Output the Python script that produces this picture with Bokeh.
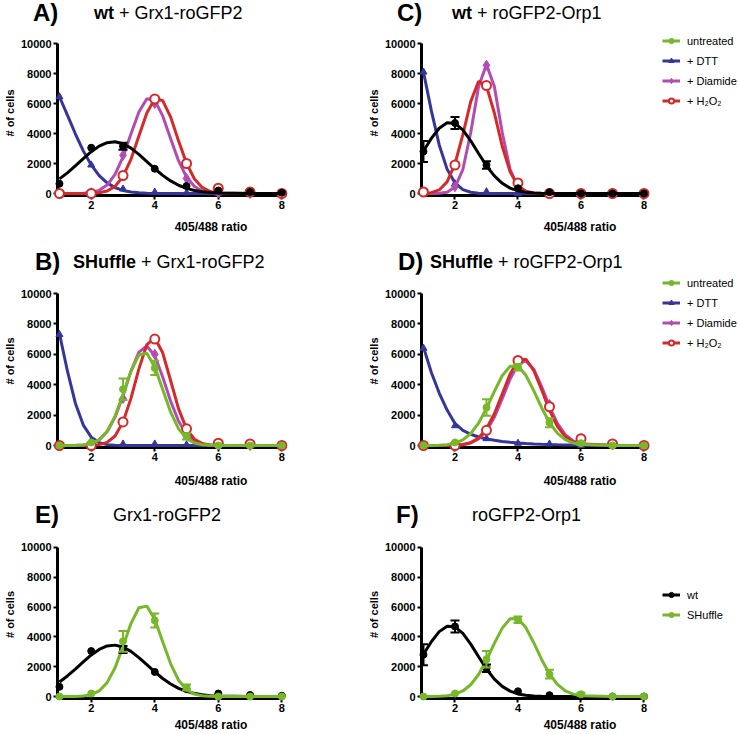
from bokeh.plotting import figure
from bokeh.layouts import column, row
from bokeh.models import (Range1d, FixedTicker, Legend, LegendItem, Div,
                          Whisker, TeeHead, ColumnDataSource)
from bokeh.embed import file_html
from bokeh.resources import INLINE

# ------------------------------------------------------------------ data
X_PTS = [1, 2, 3, 4, 5, 6, 7, 8]
X_FIT = [1.0, 1.25, 1.5, 1.75, 2.0, 2.25, 2.5, 2.75, 3.0, 3.25, 3.5, 3.75,
         4.0, 4.25, 4.5, 4.75, 5.0, 5.25, 5.5, 5.75, 6.0, 7.0, 8.0]
X_TICKS = [2, 4, 6, 8]
Y_TICKS = [0, 2000, 4000, 6000, 8000, 10000]

# A) wt + Grx1-roGFP2
wt_grx_untreated_pts = [650, 3050, 3150, 1650, 500, 200, 100, 50]
wt_grx_untreated_err = [0, 0, 230, 0, 0, 0, 0, 0]
wt_grx_untreated_fit = [976, 1378, 1840, 2326, 2786, 3158, 3390, 3446, 3317, 3023, 2610, 2132,
                        1650, 1209, 838, 550, 343, 202, 113, 59, 30, 1, 0]
wt_grx_dtt_pts = [6450, 1900, 300, 90, 40, 0, 0, 0]
wt_grx_dtt_fit = [6450, 5230, 3981, 2842, 1905, 1197, 707, 392, 203, 99, 45, 20,
                  8, 3, 1, 0, 0, 0, 0, 0, 0, 0, 0]
wt_grx_diamide_pts = [0, 50, 2550, 6000, 1000, 50, 0, 0]
wt_grx_diamide_fit = [0, 1, 4, 18, 67, 211, 563, 1276, 2443, 3960, 5436, 6315,
                      6211, 5172, 3644, 2173, 1097, 469, 170, 52, 14, 0, 0]
wt_grx_h2o2_pts = [0, 0, 1200, 6300, 2000, 350, 100, 0]
wt_grx_h2o2_fit = [0, 0, 0, 2, 12, 48, 165, 474, 1137, 2280, 3827, 5371,
                   6309, 6198, 5092, 3500, 2012, 967, 389, 131, 37, 0, 0]

# C) wt + roGFP2-Orp1
wt_orp_untreated_pts = [2800, 4700, 1900, 350, 90, 0, 0, 0]
wt_orp_untreated_err = [700, 400, 250, 0, 0, 0, 0, 0]
wt_orp_untreated_fit = [2835, 3673, 4352, 4716, 4675, 4237, 3512, 2664, 1846, 1171, 680, 360,
                        175, 78, 31, 11, 4, 0, 0, 0, 0, 0, 0]
wt_orp_dtt_pts = [8100, 650, 120, 0, 0, 0, 0, 0]
wt_orp_dtt_fit = [8100, 5525, 3236, 1625, 700, 259, 82, 22, 5, 1, 0, 0,
                  0, 0, 0, 0, 0, 0, 0, 0, 0, 0, 0]
wt_orp_diamide_pts = [100, 450, 8550, 500, 0, 0, 0, 0]
wt_orp_diamide_fit = [0, 1, 10, 80, 430, 1596, 4068, 7131, 8600, 7131, 4068, 1596,
                      430, 80, 10, 1, 0, 0, 0, 0, 0, 0, 0]
wt_orp_h2o2_pts = [100, 1900, 7200, 700, 0, 0, 0, 0]
wt_orp_h2o2_fit = [11, 57, 238, 774, 1970, 3925, 6124, 7486, 7163, 5367, 3150, 1448,
                   520, 146, 32, 6, 1, 0, 0, 0, 0, 0, 0]

# B) SHuffle + Grx1-roGFP2
sh_grx_untreated_pts = [0, 200, 3700, 5100, 600, 0, 0, 0]
sh_grx_untreated_err = [0, 0, 700, 470, 200, 0, 0, 0]
sh_grx_untreated_fit = [0, 2, 8, 35, 126, 374, 930, 1934, 3362, 4893, 5955, 6063,
                        5163, 3677, 2191, 1092, 456, 159, 46, 11, 2, 0, 0]
sh_grx_dtt_pts = [7300, 300, 100, 100, 50, 0, 0, 0]
sh_grx_dtt_fit = [7350, 4904, 2782, 1342, 551, 192, 57, 14, 3, 1, 0, 0,
                  0, 0, 0, 0, 0, 0, 0, 0, 0, 0, 0]
sh_grx_diamide_pts = [0, 50, 3100, 6000, 700, 50, 0, 0]
sh_grx_diamide_fit = [0, 2, 9, 37, 127, 368, 900, 1867, 3282, 4880, 6141, 6542,
                      5900, 4504, 2910, 1593, 740, 289, 96, 27, 6, 0, 0]
sh_grx_h2o2_pts = [0, 0, 1550, 7000, 1100, 150, 100, 0]
sh_grx_h2o2_fit = [0, 0, 0, 2, 12, 54, 204, 623, 1538, 3101, 5043, 6636,
                   7070, 6098, 4259, 2408, 1095, 409, 123, 30, 6, 0, 0]

# D) SHuffle + roGFP2-Orp1
sh_orp_untreated_pts = [0, 200, 2500, 5150, 1500, 150, 0, 0]
sh_orp_untreated_err = [0, 0, 550, 220, 300, 100, 0, 0]
sh_orp_untreated_fit = [1, 5, 18, 57, 155, 372, 790, 1478, 2443, 3564, 4587, 5211,
                        5224, 4621, 3609, 2486, 1512, 811, 384, 161, 59, 0, 0]
sh_orp_dtt_pts = [6400, 1300, 450, 150, 100, 0, 0, 0]
sh_orp_dtt_fit = [6470, 4800, 3450, 2330, 1450, 1000, 740, 560, 430, 340, 270, 210,
                  165, 130, 100, 78, 60, 45, 35, 26, 20, 5, 0]
sh_orp_diamide_pts = [0, 0, 950, 5300, 2700, 450, 50, 0]
sh_orp_diamide_fit = [0, 0, 1, 4, 15, 54, 165, 431, 967, 1863, 3081, 4375,
                      5333, 5583, 5018, 3873, 2565, 1459, 713, 299, 108, 0, 0]
sh_orp_h2o2_pts = [0, 0, 1000, 5600, 2550, 450, 100, 0]
sh_orp_h2o2_fit = [0, 0, 1, 4, 18, 63, 191, 496, 1101, 2088, 3390, 4708,
                   5590, 5679, 4935, 3666, 2330, 1267, 589, 234, 80, 0, 0]

TREATMENT_LABELS = ["untreated", "+ DTT", "+ Diamide", "+ H\u2082O\u2082"]
STRAIN_LABELS = ["wt", "SHuffle"]
PANEL_TITLES = {
    "A": ("A)", "wt", "+ Grx1-roGFP2"),
    "C": ("C)", "wt", "+ roGFP2-Orp1"),
    "B": ("B)", "SHuffle", "+ Grx1-roGFP2"),
    "D": ("D)", "SHuffle", "+ roGFP2-Orp1"),
    "E": ("E)", "", "Grx1-roGFP2"),
    "F": ("F)", "", "roGFP2-Orp1"),
}
X_LABEL = "405/488 ratio"
Y_LABEL = "# of cells"

# ------------------------------------------------------------------ style
FONT = "Liberation Sans"
BLACK = "#000000"
BLUE = "#35359a"
MAGENTA = "#b24cb2"
RED = "#d42a2a"
GREEN = "#77b82a"

STYLE = {
    "untreated_wt": dict(color=BLACK, marker="circle", size=7, fill=BLACK, lw=1),
    "untreated_sh": dict(color=GREEN, marker="circle", size=7, fill=GREEN, lw=1),
    "dtt": dict(color=BLUE, marker="triangle", size=7, fill=BLUE, lw=1),
    "diamide": dict(color=MAGENTA, marker="diamond", size=10, fill=MAGENTA, lw=1),
    "h2o2": dict(color=RED, marker="circle", size=9, fill="white", lw=2),
}

# geometry (pixels)
COLS = {"L": dict(width=364, x1=54, x8=280, left=52),
        "R": dict(width=374, x1=54, x8=278, left=52)}
ROWS = [dict(div=30, height=210, top=13, zero=163, standoff=8, title_c=13),
        dict(div=34, height=216, top=19, zero=171, standoff=10, title_c=22),
        dict(div=40, height=204, top=17, zero=167, standoff=3, title_c=25)]
PAD = 2
TITLE_POS = {"A": (33, 94), "C": (397, 452), "B": (35, 73), "D": (398, 430),
             "E": (35, 113), "F": (396, 472)}


def make_panel(c, r):
    cg, rg = COLS[c], ROWS[r]
    ppx = (cg["x8"] - cg["x1"]) / 7.0
    ppy = (rg["zero"] - rg["top"]) / 10000.0
    x0 = 1 - PAD / ppx
    x1 = 1 + (cg["width"] - cg["x1"]) / ppx
    y0 = -PAD / ppy
    y1 = 10000 + rg["top"] / ppy
    p = figure(width=cg["width"], height=rg["height"], output_backend="svg",
               toolbar_location=None,
               x_range=Range1d(x0, x1), y_range=Range1d(y0, y1),
               min_border_left=cg["left"], min_border_right=0, min_border_top=0,
               min_border_bottom=rg["height"] - rg["zero"] - PAD)
    p.outline_line_color = None
    p.xgrid.visible = False
    p.ygrid.visible = False
    for ax in (p.xaxis[0], p.yaxis[0]):
        ax.axis_line_width = 3
        ax.axis_line_color = BLACK
        ax.major_tick_line_width = 2
        ax.major_tick_line_color = BLACK
        ax.major_tick_out = 4
        ax.major_tick_in = 0
        ax.minor_tick_out = 0
        ax.minor_tick_in = 0
        ax.major_label_text_font = FONT
        ax.major_label_text_font_style = "bold"
        ax.major_label_text_font_size = "11px"
        ax.major_label_text_color = BLACK
        ax.axis_label_text_font = FONT
        ax.axis_label_text_font_style = "bold"
        ax.axis_label_text_color = BLACK
    xa, ya = p.xaxis[0], p.yaxis[0]
    xa.ticker = FixedTicker(ticks=X_TICKS)
    xa.bounds = (x0, 8)
    xa.major_label_standoff = 1
    xa.axis_label = X_LABEL
    xa.axis_label_text_font_size = "12px"
    xa.axis_label_standoff = rg["standoff"]
    ya.ticker = FixedTicker(ticks=Y_TICKS)
    ya.bounds = (y0, 10000)
    ya.major_label_standoff = 2
    ya.axis_label = Y_LABEL
    ya.axis_label_text_font_size = "11px"
    ya.axis_label_standoff = 2
    return p


def draw(p, fit, pts, key, err=None, visible=True):
    st = STYLE[key]
    ln = p.line(X_FIT, fit, line_color=st["color"], line_width=3, level="annotation",
                visible=visible)
    if err is not None and visible:
        xs = [x for x, e in zip(X_PTS, err) if e > 0]
        ups = [v + e for v, e in zip(pts, err) if e > 0]
        los = [v - e for v, e in zip(pts, err) if e > 0]
        src = ColumnDataSource(dict(x=xs, upper=ups, lower=los))
        p.add_layout(Whisker(source=src, base="x", upper="upper", lower="lower",
                             line_color=st["color"], line_width=2, level="annotation",
                             upper_head=TeeHead(size=9, line_color=st["color"], line_width=2),
                             lower_head=TeeHead(size=9, line_color=st["color"], line_width=2)))
    sc = p.scatter(X_PTS, pts, marker=st["marker"], size=st["size"], line_color=st["color"],
                   fill_color=st["fill"], line_width=st["lw"], level="annotation",
                   visible=visible)
    return [ln, sc]


def add_legend(p, labels, renderer_groups, vx, vy):
    items = [LegendItem(label=lab, renderers=grp) for lab, grp in zip(labels, renderer_groups)]
    leg = Legend(items=items, location=(vx, vy), glyph_width=18, glyph_height=13,
                 label_height=13, label_standoff=7, spacing=7, padding=0, margin=0,
                 border_line_color=None, background_fill_alpha=0, inactive_fill_alpha=0,
                 label_text_font=FONT, label_text_font_size="11px", label_text_color=BLACK)
    p.add_layout(leg)


def title_div(r, keys):
    rg = ROWS[r]
    spans = []
    for k in keys:
        letter, bold, rest = PANEL_TITLES[k]
        lx, tx = TITLE_POS[k]
        spans.append(
            '<span style="position:absolute;left:%dpx;top:%dpx;font-size:24px;'
            'line-height:24px;font-weight:bold;white-space:nowrap;">%s</span>'
            % (lx, rg["title_c"] - 12, letter))
        body = ("<b>%s</b> %s" % (bold, rest)) if bold else rest
        spans.append(
            '<span style="position:absolute;left:%dpx;top:%dpx;font-size:18px;'
            'line-height:18px;white-space:nowrap;">%s</span>'
            % (tx, rg["title_c"] - 9, body))
    html = ('<div style="position:relative;width:738px;height:%dpx;'
            'font-family:\'Liberation Sans\',Arial,sans-serif;color:#000;">%s</div>'
            % (rg["div"], "".join(spans)))
    return Div(text=html, width=738, height=rg["div"], margin=(0, 0, 0, 0))


LEG_X = 241

# A
pA = make_panel("L", 0)
draw(pA, wt_grx_dtt_fit, wt_grx_dtt_pts, "dtt")
draw(pA, wt_grx_diamide_fit, wt_grx_diamide_pts, "diamide")
draw(pA, wt_grx_h2o2_fit, wt_grx_h2o2_pts, "h2o2")
draw(pA, wt_grx_untreated_fit, wt_grx_untreated_pts, "untreated_wt", wt_grx_untreated_err)

# C
pC = make_panel("R", 0)
c_dtt = draw(pC, wt_orp_dtt_fit, wt_orp_dtt_pts, "dtt")
c_dia = draw(pC, wt_orp_diamide_fit, wt_orp_diamide_pts, "diamide")
c_h2o2 = draw(pC, wt_orp_h2o2_fit, wt_orp_h2o2_pts, "h2o2")
draw(pC, wt_orp_untreated_fit, wt_orp_untreated_pts, "untreated_wt", wt_orp_untreated_err)
c_unt = draw(pC, sh_orp_untreated_fit, sh_orp_untreated_pts, "untreated_sh", visible=False)
add_legend(pC, TREATMENT_LABELS, [c_unt, c_dtt, c_dia, c_h2o2], LEG_X, 88)

# B
pB = make_panel("L", 1)
draw(pB, sh_grx_dtt_fit, sh_grx_dtt_pts, "dtt")
draw(pB, sh_grx_diamide_fit, sh_grx_diamide_pts, "diamide")
draw(pB, sh_grx_h2o2_fit, sh_grx_h2o2_pts, "h2o2")
draw(pB, sh_grx_untreated_fit, sh_grx_untreated_pts, "untreated_sh", sh_grx_untreated_err)

# D
pD = make_panel("R", 1)
d_dtt = draw(pD, sh_orp_dtt_fit, sh_orp_dtt_pts, "dtt")
d_dia = draw(pD, sh_orp_diamide_fit, sh_orp_diamide_pts, "diamide")
d_h2o2 = draw(pD, sh_orp_h2o2_fit, sh_orp_h2o2_pts, "h2o2")
d_unt = draw(pD, sh_orp_untreated_fit, sh_orp_untreated_pts, "untreated_sh", sh_orp_untreated_err)
add_legend(pD, TREATMENT_LABELS, [d_unt, d_dtt, d_dia, d_h2o2], LEG_X, 98)

# E
pE = make_panel("L", 2)
draw(pE, wt_grx_untreated_fit, wt_grx_untreated_pts, "untreated_wt", wt_grx_untreated_err)
draw(pE, sh_grx_untreated_fit, sh_grx_untreated_pts, "untreated_sh", sh_grx_untreated_err)

# F
pF = make_panel("R", 2)
f_wt = draw(pF, wt_orp_untreated_fit, wt_orp_untreated_pts, "untreated_wt", wt_orp_untreated_err)
f_sh = draw(pF, sh_orp_untreated_fit, sh_orp_untreated_pts, "untreated_sh", sh_orp_untreated_err)
add_legend(pF, STRAIN_LABELS, [f_wt, f_sh], LEG_X, 77)

layout = column(title_div(0, ["A", "C"]), row(pA, pC),
                title_div(1, ["B", "D"]), row(pB, pD),
                title_div(2, ["E", "F"]), row(pE, pF))
open("out.html", "w").write(file_html(layout, INLINE))
